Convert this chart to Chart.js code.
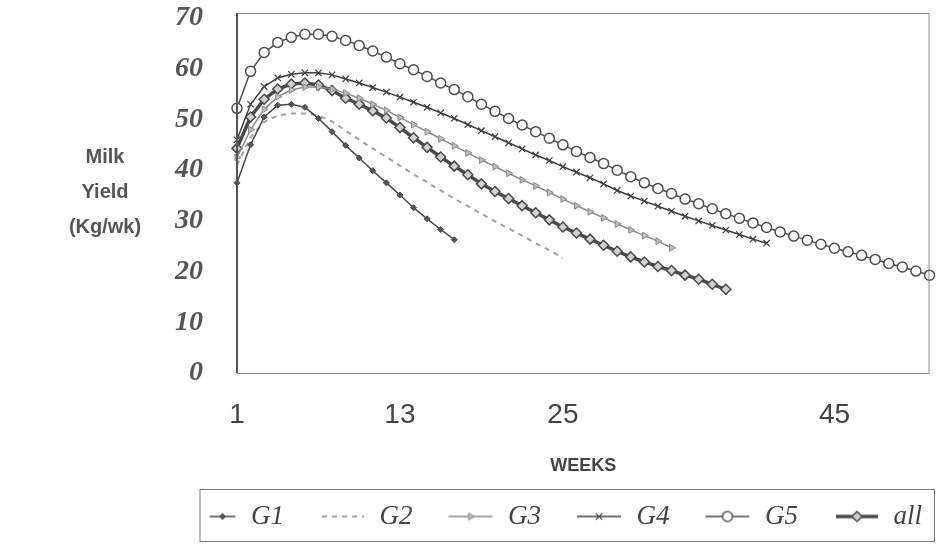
<!DOCTYPE html>
<html>
<head>
<meta charset="utf-8">
<script src="https://cdn.jsdelivr.net/npm/chart.js@4.4.1/dist/chart.umd.min.js"></script>
<style>
  html, body { margin: 0; padding: 0; background: #fff; }
  #wrap { width: 936px; height: 546px; position: relative; }
</style>
</head>
<body>
<div id="wrap"><canvas id="c"></canvas></div>
<script>
/* ── data ── */
const WEEKS = [1, 2, 3, 4, 5, 6, 7, 8, 9, 10, 11, 12, 13, 14, 15, 16, 17, 18, 19, 20,
  21, 22, 23, 24, 25, 26, 27, 28, 29, 30, 31, 32, 33, 34, 35, 36, 37, 38, 39, 40,
  41, 42, 43, 44, 45, 46, 47, 48, 49, 50, 51, 52];
const X_TICKS = [1, 13, 25, 45];
const Y_TICKS = [0, 10, 20, 30, 40, 50, 60, 70];
const SERIES = ['G1', 'G2', 'G3', 'G4', 'G5', 'all'];
const Y_TITLE = ['Milk', 'Yield', '(Kg/wk)'];
const X_TITLE = 'WEEKS';

const G1 = [37.5, 45.0, 50.5, 52.8, 53.0, 52.4, 50.2, 47.6, 44.9, 42.4, 39.9, 37.5, 35.1, 32.6, 30.4, 28.3, 26.3];
const G2 = [41.0, 46.5, 49.5, 50.8, 51.2, 51.2, 50.8, 49.6, 47.8, 46.0, 44.3, 42.6, 40.9, 39.2, 37.6, 36.0, 34.4,
  32.9, 31.4, 29.9, 28.5, 27.1, 25.6, 24.2, 22.7];
const G3 = [42.5, 48.0, 52.0, 54.5, 55.8, 56.4, 56.4, 56.0, 55.2, 54.2, 53.0, 51.8, 50.4, 49.0, 47.6, 46.2, 44.8,
  43.4, 42.0, 40.7, 39.4, 38.1, 36.9, 35.6, 34.3, 33.0, 31.8, 30.6, 29.4, 28.2, 27.1, 26.0, 24.7];
const G4 = [46.0, 53.0, 56.5, 58.2, 58.9, 59.2, 59.2, 58.8, 58.0, 57.2, 56.3, 55.4, 54.4, 53.4, 52.4, 51.3, 50.2,
  49.0, 47.8, 46.6, 45.4, 44.2, 43.0, 41.9, 40.7, 39.6, 38.5, 37.3, 36.0, 34.9, 33.9, 32.9, 31.9, 30.9, 30.0,
  29.1, 28.2, 27.3, 26.4, 25.6];
const G5 = [52.2, 59.5, 63.2, 65.2, 66.2, 66.8, 66.8, 66.4, 65.6, 64.6, 63.5, 62.3, 61.0, 59.8, 58.5, 57.2, 55.9,
  54.5, 53.0, 51.6, 50.2, 48.9, 47.6, 46.3, 45.0, 43.7, 42.5, 41.3, 40.0, 38.7, 37.5, 36.4, 35.4, 34.3, 33.4,
  32.4, 31.4, 30.5, 29.6, 28.7, 27.8, 27.0, 26.2, 25.4, 24.6, 23.9, 23.2, 22.4, 21.6, 20.9, 20.1, 19.3];
const ALL = [44.3, 50.5, 54.0, 56.0, 57.0, 57.2, 56.8, 55.7, 54.2, 53.0, 51.7, 50.3, 48.4, 46.4, 44.5, 42.6, 40.8,
  39.1, 37.3, 35.8, 34.4, 33.0, 31.6, 30.2, 28.8, 27.6, 26.4, 25.2, 24.0, 22.9, 21.9, 21.0, 20.2, 19.3, 18.5,
  17.5, 16.5];

/* ── styles ── */
const SERIF = "'Liberation Serif', 'Times New Roman', serif";
const SANS = "'Liberation Sans', Arial, sans-serif";

const datasets = [
  { label: SERIES[0], data: G1, borderColor: '#4a4a4a', borderWidth: 1.5,
    pointStyle: 'rectRot', pointRadius: 3, pointBackgroundColor: '#555', pointBorderColor: '#444', pointBorderWidth: 1 },
  { label: SERIES[1], data: G2, borderColor: '#a0a0a0', borderWidth: 2, borderDash: [5, 5],
    pointRadius: 0 },
  { label: SERIES[2], data: G3, borderColor: '#8c8c8c', borderWidth: 1.5,
    pointStyle: 'triangle', pointRotation: 90, pointRadius: 4, pointBackgroundColor: '#bdbdbd', pointBorderColor: '#8a8a8a', pointBorderWidth: 1 },
  { label: SERIES[3], data: G4, borderColor: '#3e3e3e', borderWidth: 1.5,
    pointStyle: 'crossRot', pointRadius: 4.5, pointBorderColor: '#3e3e3e', pointBorderWidth: 1.2 },
  { label: SERIES[4], data: G5, borderColor: '#4e4e4e', borderWidth: 1.5,
    pointStyle: 'circle', pointRadius: 5, pointBackgroundColor: '#fff', pointBorderColor: '#4e4e4e', pointBorderWidth: 1.5 },
  { label: SERIES[5], data: ALL, borderColor: '#4a4a4a', borderWidth: 3.5,
    pointStyle: 'rectRot', pointRadius: 5, pointBackgroundColor: '#d0d0d0', pointBorderColor: '#4a4a4a', pointBorderWidth: 1.5 },
];
datasets.forEach(d => { d.fill = false; d.tension = 0; d.pointHoverRadius = d.pointRadius; });

/* legend symbols: small canvases with a line and marker, transparent on the left */
const SYM_W = 70, SYM_H = 28;
const SYM_LENS = [26, 42, 44, 44, 44, 42];
function makeSymbol(ds, i) {
  const cv = document.createElement('canvas');
  cv.width = SYM_W; cv.height = SYM_H;
  const c = cv.getContext('2d');
  const y = SYM_H / 2, len = SYM_LENS[i];
  c.strokeStyle = ds.borderColor;
  c.lineWidth = ds.borderWidth;
  c.setLineDash(ds.borderDash || []);
  c.beginPath(); c.moveTo(SYM_W - len - 2, y); c.lineTo(SYM_W - 2, y); c.stroke();
  c.setLineDash([]);
  if (ds.pointRadius > 0) {
    c.fillStyle = ds.pointBackgroundColor || '#fff';
    c.strokeStyle = ds.pointBorderColor;
    c.lineWidth = ds.pointBorderWidth;
    Chart.helpers.drawPoint(c, { pointStyle: ds.pointStyle, radius: ds.pointRadius,
      rotation: ds.pointRotation || 0, borderWidth: ds.pointBorderWidth }, SYM_W - 2 - len / 2, y);
  }
  return cv;
}
const SYMBOLS = datasets.map(makeSymbol);

/* plot frame, legend box, y title */
const decor = {
  id: 'decor',
  afterDraw(chart) {
    const { ctx, chartArea: a } = chart;
    ctx.save();
    ctx.strokeStyle = '#8a8a8a'; ctx.lineWidth = 1;
    ctx.strokeRect(a.left + 0.5, a.top + 0.5, a.right - a.left - 1, a.bottom - a.top);
    ctx.strokeStyle = '#555'; ctx.lineWidth = 2;
    ctx.beginPath(); ctx.moveTo(a.left, a.top); ctx.lineTo(a.left, a.bottom); ctx.stroke();

    const lg = chart.legend, hb = lg.legendHitBoxes;
    const bx = hb[0].left + (SYM_W - 2 - SYM_LENS[0]) - 10;
    ctx.strokeStyle = '#777'; ctx.lineWidth = 1;
    ctx.strokeRect(bx + 0.5, lg.top - 1.5, chart.width - 2 - bx, 52);

    ctx.fillStyle = '#555';
    ctx.font = 'bold 20px ' + SANS;
    ctx.textAlign = 'center'; ctx.textBaseline = 'middle';
    Y_TITLE.forEach((t, i) => ctx.fillText(t, 105, 157 + i * 35));
    ctx.restore();
  }
};

new Chart(document.getElementById('c'), {
  type: 'line',
  data: { labels: WEEKS, datasets },
  options: {
    responsive: true,
    maintainAspectRatio: false,
    animation: false,
    layout: { padding: { top: 13, right: 2, bottom: 6, left: 0 } },
    plugins: {
      tooltip: { enabled: false },
      legend: {
        position: 'bottom',
        align: 'end',
        labels: {
          usePointStyle: true,
          pointStyleWidth: SYM_W,
          padding: 12,
          color: '#444',
          font: { family: SERIF, style: 'italic', size: 27 },
          generateLabels(chart) {
            const items = Chart.defaults.plugins.legend.labels.generateLabels(chart);
            items.forEach((it, i) => { it.pointStyle = SYMBOLS[i]; it.rotation = 0; });
            return items;
          }
        }
      }
    },
    scales: {
      x: {
        grid: { display: false, drawTicks: true, tickLength: 25 },
        border: { display: false },
        afterFit(s) { s.height = 118; },
        ticks: {
          autoSkip: false, maxRotation: 0, padding: 0, color: '#444',
          font: { family: SANS, size: 28 },
          callback(v, i) { return X_TICKS.includes(WEEKS[i]) ? String(WEEKS[i]) : ''; }
        },
        title: { display: true, text: X_TITLE, color: '#444',
          font: { family: SANS, size: 18, weight: 'bold' }, padding: { top: 0, bottom: 14 } }
      },
      y: {
        min: 0, max: 71,
        grid: { display: false, drawTicks: true, tickLength: 34 },
        border: { display: false },
        afterFit(s) { s.width = 237; },
        afterBuildTicks(s) { s.ticks = Y_TICKS.map(v => ({ value: v })); },
        ticks: {
          padding: 0, color: '#555',
          font: { family: SERIF, style: 'italic', weight: 'bold', size: 28, lineHeight: 0.9 }
        }
      }
    }
  },
  plugins: [decor]
});
</script>
</body>
</html>
